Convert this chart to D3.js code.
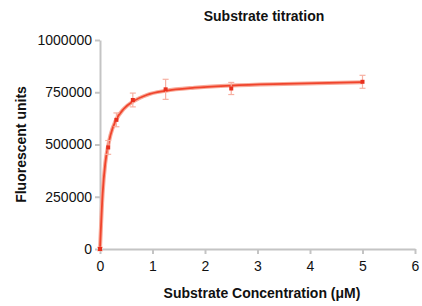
<!DOCTYPE html>
<meta charset='utf-8'>
<style>
  body { margin: 0; background: #fff; }
  text { font-family: 'Liberation Sans Narrow', 'Arial Narrow', 'Liberation Sans', sans-serif; }
  .axis path, .axis line { stroke: #c4c4c4; stroke-width: 2; fill: none; }
  .axis text { font-size: 14px; fill: #111; }
  .lbl { font-size: 14px; font-weight: bold; fill: #111; }
</style>
<body>
<script src='https://d3js.org/d3.v7.min.js'></script>
<script>
  // measured points
  const conc = [0, 0.156, 0.3125, 0.625, 1.25, 2.5, 5]
  const signal = [0, 486000, 618000, 713000, 764000, 768000, 800000]
  const errs = [8000, 33000, 33000, 33000, 48000, 29000, 31000]

  // fitted curve
  const fitX = [0, 0.05, 0.1, 0.156, 0.2, 0.3, 0.45, 0.625, 0.9, 1.25, 1.8, 2.5, 3.5, 5]
  const fitY = [0, 265000, 410000, 495000, 545000, 615000, 670000, 705000, 738000, 757000, 772000, 782000, 790000, 798000]

  const xTicks = [0, 1, 2, 3, 4, 5, 6]
  const yTicks = [0, 250000, 500000, 750000, 1000000]

  const W = 422, H = 306
  const margin = {top: 40, right: 7, bottom: 57, left: 100}
  const width = W - margin.left - margin.right
  const height = H - margin.top - margin.bottom

  const x = d3.scaleLinear().domain([0, 6]).range([0, width])
  const y = d3.scaleLinear().domain([0, 1000000]).range([height, 0])

  const svg = d3.select('body').append('svg')
    .attr('width', W).attr('height', H)
  const g = svg.append('g')
    .attr('transform', `translate(${margin.left},${margin.top})`)

  g.append('g').attr('class', 'axis')
    .attr('transform', `translate(0,${height})`)
    .call(d3.axisBottom(x).tickValues(xTicks).tickFormat(d3.format('d')).tickSize(5).tickSizeOuter(0).tickPadding(7))

  g.append('g').attr('class', 'axis')
    .call(d3.axisLeft(y).tickValues(yTicks).tickFormat(d3.format('d')).tickSize(5).tickSizeOuter(0).tickPadding(3))

  const line = d3.line()
    .x((d, i) => x(fitX[i]))
    .y(d => y(d))
    .curve(d3.curveMonotoneX)

  g.append('path')
    .attr('d', line(fitY))
    .attr('fill', 'none')
    .attr('stroke', '#f8aa9a')
    .attr('stroke-width', 4)
  g.append('path')
    .attr('d', line(fitY))
    .attr('fill', 'none')
    .attr('stroke', '#f0442c')
    .attr('stroke-width', 1.8)

  const pts = conc.map((c, i) => ({c, v: signal[i], e: errs[i]}))

  const eb = g.selectAll('.eb').data(pts).enter().append('g')
  eb.append('line')
    .attr('x1', d => x(d.c)).attr('x2', d => x(d.c))
    .attr('y1', d => y(d.v - d.e)).attr('y2', d => y(d.v + d.e))
    .attr('stroke', '#f7b0a2').attr('stroke-width', 1.2)
  eb.selectAll('.cap').data(d => [d.v - d.e, d.v + d.e].map(v => ({c: d.c, v})))
    .enter().append('line')
    .attr('x1', d => x(d.c) - 3).attr('x2', d => x(d.c) + 3)
    .attr('y1', d => y(d.v)).attr('y2', d => y(d.v))
    .attr('stroke', '#f7b0a2').attr('stroke-width', 1.2)

  g.selectAll('.pt').data(pts).enter().append('rect')
    .attr('x', d => x(d.c) - 2).attr('y', d => y(d.v) - 2)
    .attr('width', 4).attr('height', 4)
    .attr('fill', '#e8301e')

  svg.append('text').attr('class', 'lbl')
    .attr('x', 264).attr('y', 21)
    .attr('text-anchor', 'middle')
    .text('Substrate titration')

  svg.append('text').attr('class', 'lbl')
    .attr('x', 262).attr('y', 298)
    .attr('text-anchor', 'middle')
    .text('Substrate Concentration (μM)')

  svg.append('text').attr('class', 'lbl')
    .attr('transform', `translate(26,${margin.top + height / 2}) rotate(-90)`)
    .attr('text-anchor', 'middle')
    .text('Fluorescent units')
</script>
</body>
